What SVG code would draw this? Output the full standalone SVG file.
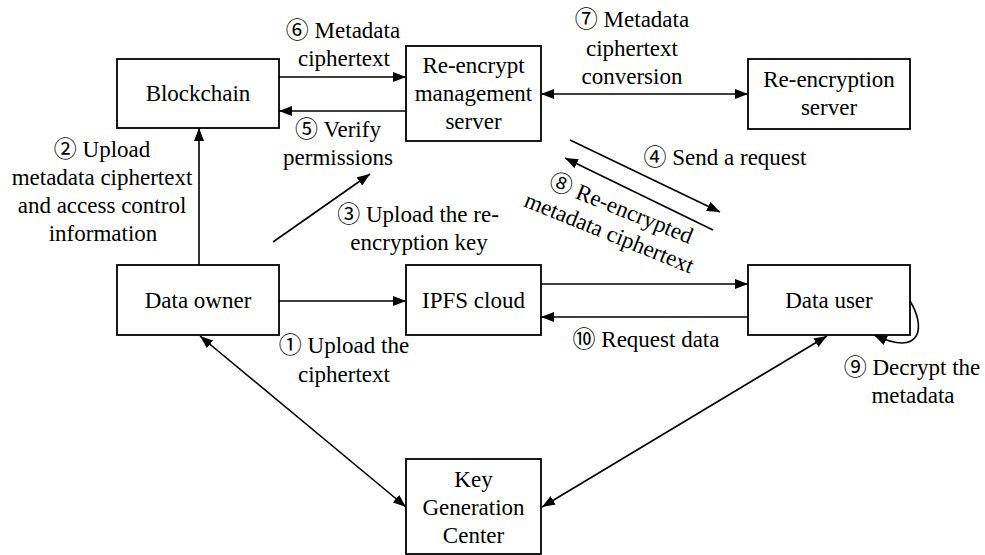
<svg xmlns="http://www.w3.org/2000/svg" width="985" height="555" viewBox="0 0 985 555">
<defs>
<marker id="ah" viewBox="0 0 13 10" refX="13" refY="5" markerWidth="13" markerHeight="10" markerUnits="userSpaceOnUse" orient="auto-start-reverse"><path d="M0,0 L13,5 L0,10 z" fill="#000"/></marker>
<style>
rect{fill:#fff;stroke:#000;stroke-width:1.8}
text{font-family:"Liberation Serif","Times New Roman","Noto Sans CJK SC",serif;font-size:23px;fill:#000;text-anchor:middle}
.c path,.c line{stroke:#000;stroke-width:1.6;fill:none}
.e{marker-end:url(#ah)}
.b{marker-start:url(#ah);marker-end:url(#ah)}
</style>
</defs>
<rect x="0" y="0" width="985" height="555" style="fill:#fff;stroke:none"/>
<g class="c" id="connectors">
<line class="e" x1="279" y1="77" x2="406" y2="77"/>
<line class="e" x1="406" y1="111" x2="279" y2="111"/>
<line class="b" x1="541" y1="94" x2="748" y2="94"/>
<line class="e" x1="199" y1="265" x2="199" y2="128"/>
<line class="e" x1="273" y1="242" x2="370" y2="174"/>
<line class="e" x1="570" y1="140" x2="720" y2="212"/>
<line class="e" x1="713" y1="230" x2="565" y2="158"/>
<line class="e" x1="279" y1="301" x2="406" y2="301"/>
<line class="e" x1="541" y1="284" x2="748" y2="284"/>
<line class="e" x1="748" y1="317" x2="541" y2="317"/>
<line class="b" x1="200" y1="336" x2="406" y2="507"/>
<line class="b" x1="827" y1="336" x2="542" y2="507"/>
<path class="e" d="M910,301 C925,325 924,358 874,335"/>
</g>
<g id="blockchain"><rect x="117" y="59" width="162" height="69"/><text x="198" y="101">Blockchain</text></g>
<g id="reencrypt-mgmt"><rect x="406" y="46" width="135" height="95"/><text x="473.5" y="73">Re-encrypt</text><text x="473.5" y="101">management</text><text x="473.5" y="129">server</text></g>
<g id="reencryption-server"><rect x="748" y="59" width="162" height="70"/><text x="829" y="87">Re-encryption</text><text x="829" y="115">server</text></g>
<g id="data-owner"><rect x="117" y="265" width="162" height="70"/><text x="198" y="308">Data owner</text></g>
<g id="ipfs"><rect x="406" y="265" width="135" height="70"/><text x="473.5" y="308">IPFS cloud</text></g>
<g id="data-user"><rect x="748" y="265" width="162" height="70"/><text x="829" y="308">Data user</text></g>
<g id="kgc"><rect x="406" y="459" width="135" height="95"/><text x="473.5" y="487">Key</text><text x="473.5" y="515">Generation</text><text x="473.5" y="543">Center</text></g>
<g id="labels">
<text x="343" y="38">⑥ Metadata</text><text x="344" y="66">ciphertext</text>
<text x="338" y="137">⑤ Verify</text><text x="338" y="165">permissions</text>
<text x="102" y="157">② Upload</text><text x="102" y="185">metadata ciphertext</text><text x="102" y="213">and access control</text><text x="103" y="241">information</text>
<text x="418" y="222">③ Upload the re-</text><text x="419" y="250">encryption key</text>
<text x="632" y="27">⑦ Metadata</text><text x="632" y="56">ciphertext</text><text x="632" y="84">conversion</text>
<text x="725" y="165">④ Send a request</text>
<text transform="translate(621,209) rotate(22)" x="0" y="7">⑧ Re-encrypted</text>
<text transform="translate(621,209) rotate(22)" x="-2" y="34">metadata ciphertext</text>
<text x="344" y="353">① Upload the</text><text x="344" y="382">ciphertext</text>
<text x="646" y="347">⑩ Request data</text>
<text x="912" y="375">⑨ Decrypt the</text><text x="913" y="403">metadata</text>
</g>
</svg>
